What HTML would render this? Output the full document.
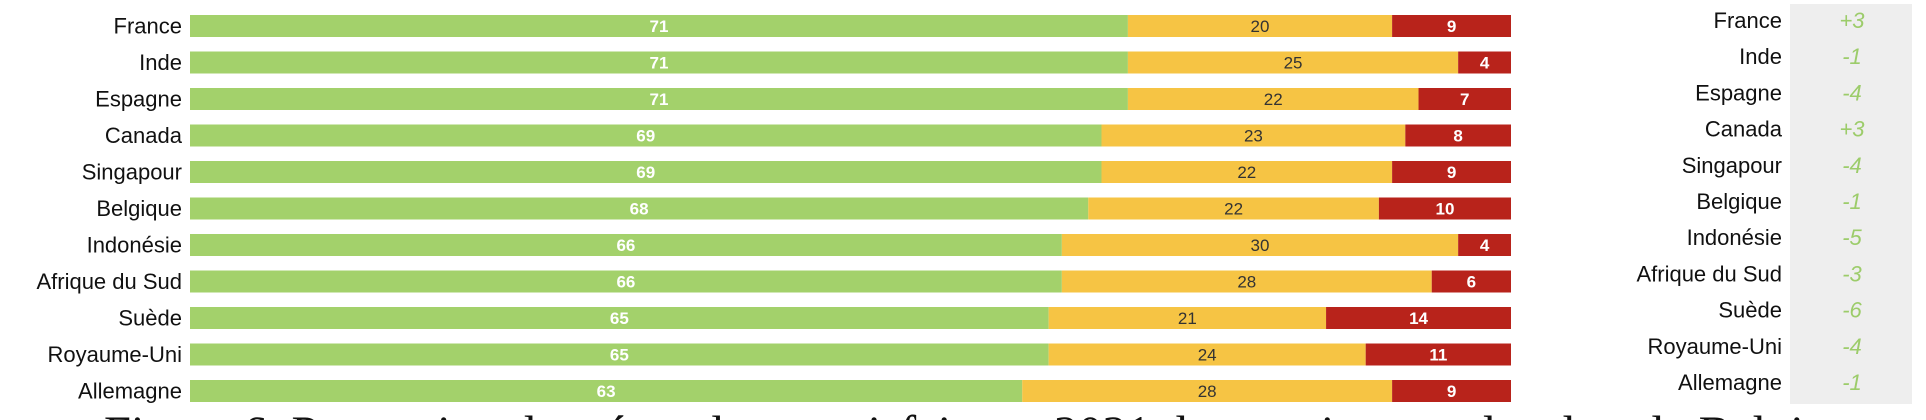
<!DOCTYPE html>
<html><head><meta charset="utf-8"><style>
html,body{margin:0;padding:0;background:#fff;overflow:hidden;width:1926px;height:420px}
svg{display:block}
</style></head><body>
<svg id="chart" width="1926" height="420" xmlns="http://www.w3.org/2000/svg" font-family="Liberation Sans, sans-serif">
<rect x="1790" y="4" width="122" height="400" fill="#eeeeee"/>
<text x="104" y="450" font-family="Liberation Serif, serif" font-size="50" fill="#111" textLength="1770" lengthAdjust="spacingAndGlyphs">Figure 6. Proportion des répondants satisfaits en 2021 des services rendus dans la Belgique</text>
<g id="bars"></g>
<g id="changes"></g>
</svg>
<script>
const countries = ["France","Inde","Espagne","Canada","Singapour","Belgique","Indonésie","Afrique du Sud","Suède","Royaume-Uni","Allemagne"];
const positive = [71,71,71,69,69,68,66,66,65,65,63];
const neutral = [20,25,22,23,22,22,30,28,21,24,28];
const negative = [9,4,7,8,9,10,4,6,14,11,9];
const changes = ["+3","-1","-4","+3","-4","-1","-5","-3","-6","-4","-1"];

const NS = "http://www.w3.org/2000/svg";
const x0 = 190, x1 = 1511;
function xs(v){ return x0 + v/100*(x1-x0); }
function yc(i){ return 26 + i*36.5; }
const barH = 22;
const bars = document.getElementById('bars');
const ch = document.getElementById('changes');
function mk(tag, attrs, parent){ const e=document.createElementNS(NS,tag); for(const k in attrs) e.setAttribute(k,attrs[k]); parent.appendChild(e); return e; }

countries.forEach((c,i)=>{
  const y = yc(i);
  const lab = mk('text',{x:182,y:y+7.5,'text-anchor':'end','font-size':22,fill:'#111'},bars);
  lab.textContent = c;
  
  
  const segs = [[positive[i],'#a3d16b','#fff','bold'],[neutral[i],'#f6c444','#333','normal'],[negative[i],'#b8231b','#fff','bold']];
  let acc = 0;
  segs.forEach((s,k)=>{
    const a = xs(acc), b = xs(acc+s[0]);
    const r = mk('rect',{x:a,y:y-barH/2,width:b-a,height:barH,fill:s[1]},bars);
    
    
    const t = mk('text',{x:(a+b)/2,y:y+6,'text-anchor':'middle','font-size':17,'font-weight':s[3],fill:s[2]},bars);
    t.textContent = s[0];
    
    
    acc += s[0];
  });
  const ry = 20 + i*36.2;
  const rl = mk('text',{x:1782,y:ry+8,'text-anchor':'end','font-size':22,fill:'#111'},ch);
  rl.textContent = c;
  
  
  const rv = mk('text',{x:1852,y:ry+8,'text-anchor':'middle','font-size':22,'font-style':'italic',fill:'#9ccc6a'},ch);
  rv.textContent = changes[i];
  
  
});
</script>
</body></html>
